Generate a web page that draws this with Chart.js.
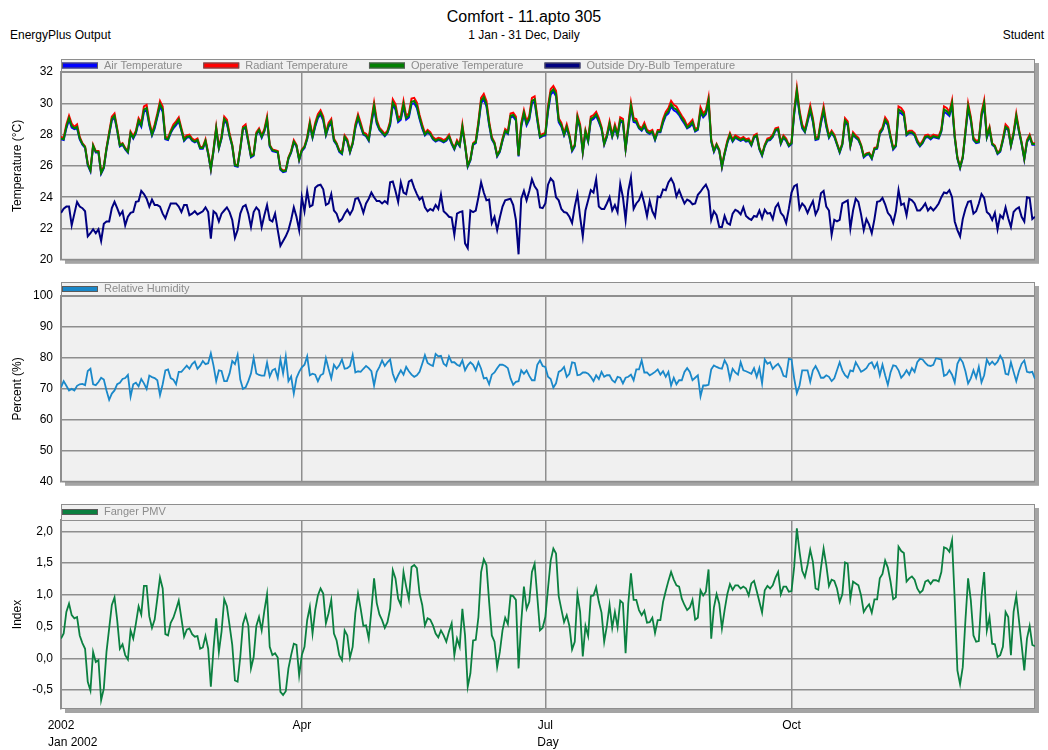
<!DOCTYPE html>
<html>
<head>
<meta charset="utf-8">
<script src="https://cdn.jsdelivr.net/npm/chart.js@4.4.1/dist/chart.umd.min.js"></script>
<style>
  body { margin: 0; background: #fff; font-family: "Liberation Sans", Arial, sans-serif; }
  #page { position: relative; width: 1048px; height: 750px; overflow: hidden; }
  .txt { position: absolute; white-space: nowrap; color: #000; line-height: 1; }
  canvas { position: absolute; left: 0; }
</style>
</head>
<body>
<div id="page">
  <div class="txt" style="left:0;width:1048px;text-align:center;top:9px;font-size:16px;">Comfort - 11.apto 305</div>
  <div class="txt" style="left:0;width:1048px;text-align:center;top:29px;font-size:12px;">1 Jan - 31 Dec, Daily</div>
  <div class="txt" style="left:10px;top:29px;font-size:12px;">EnergyPlus Output</div>
  <div class="txt" style="right:4px;top:29px;font-size:12px;">Student</div>
  <canvas id="tempChart" width="1048" height="225" style="top:50px"></canvas>
  <canvas id="rhChart" width="1048" height="225" style="top:272px"></canvas>
  <canvas id="pmvChart" width="1048" height="256" style="top:494px"></canvas>
  <div class="txt" style="left:48px;top:736px;font-size:12px;">Jan 2002</div>
</div>
<script>
// day of year, 0 = 1 Jan 2002
const days = Array.from({length: 365}, (_, i) => i);
const monthTicks = [0, 90, 181, 273];
const monthLabels = ['2002', 'Apr', 'Jul', 'Oct'];

const tempTicks = [20, 22, 24, 26, 28, 30, 32];
const rhTicks = [40, 50, 60, 70, 80, 90, 100];
const pmvTicks = [-0.5, 0, 0.5, 1.0, 1.5, 2.0];

const operativeTemp = [
  27.75, 27.7, 28.5, 29.05, 28.55, 28.4, 28.5, 27.75, 27.4, 27.2,
  26.1, 25.7, 27.3, 26.9, 26.9, 25.55, 25.9, 27.1, 28.05, 29.0,
  29.2, 28.3, 27.3, 27.4, 27.1, 26.9, 28.1, 27.8, 28.15, 28.9,
  28.6, 29.6, 29.7, 28.7, 28.0, 28.5, 29.2, 29.95, 29.6, 27.75,
  27.7, 28.15, 28.5, 28.7, 28.95, 28.3, 27.65, 27.85, 27.9, 27.65,
  27.55, 27.65, 27.15, 27.15, 27.6, 26.8, 25.8, 27.0, 28.4, 27.15,
  27.8, 29.0, 28.8, 27.95, 27.3, 26.05, 26.0, 27.1, 28.4, 28.5,
  27.55, 26.6, 26.7, 28.05, 28.3, 27.85, 28.25, 29.0, 27.3, 27.0,
  26.95, 26.9, 25.8, 25.65, 25.7, 26.5, 26.9, 27.55, 27.3, 26.4,
  27.0, 27.2, 27.75, 28.7, 27.85, 28.6, 29.15, 29.4, 29.0, 28.0,
  28.6, 28.85, 27.65, 27.4, 26.95, 26.8, 27.85, 27.6, 26.9, 27.45,
  28.5, 29.15, 28.6, 28.05, 27.95, 27.65, 28.8, 29.85, 28.8, 28.35,
  28.15, 27.95, 28.15, 28.7, 30.05, 29.75, 28.9, 29.05, 29.95, 29.05,
  29.2, 30.1, 30.15, 29.85, 29.1, 28.5, 28.0, 28.2, 28.05, 27.75,
  27.6, 27.7, 27.65, 27.55, 27.65, 27.9, 27.45, 27.1, 27.55, 27.3,
  28.5, 27.35, 26.0, 26.4, 27.4, 27.5, 28.7, 30.15, 30.4, 29.95,
  28.7, 27.75, 27.45, 26.65, 26.95, 27.65, 28.25, 28.1, 29.2, 29.25,
  29.0, 26.65, 28.6, 29.4, 28.7, 29.05, 30.15, 30.25, 29.0, 27.85,
  27.95, 28.0, 29.6, 30.7, 30.9, 30.6, 28.9, 28.6, 28.0, 28.5,
  27.9, 27.0, 27.3, 29.1, 28.5, 26.9, 28.2, 27.6, 29.0, 29.1,
  29.3, 28.9, 28.4, 27.4, 27.9, 28.7, 27.9, 28.5, 27.95, 28.95,
  28.85, 27.1, 28.5, 29.85, 28.9, 28.85, 28.45, 28.3, 28.6, 28.2,
  28.1, 28.2, 27.7, 28.2, 28.2, 28.85, 29.3, 29.5, 29.95, 29.7,
  29.6, 29.35, 29.05, 28.8, 28.45, 28.6, 28.8, 28.25, 28.35, 29.55,
  29.2, 29.4, 30.2, 27.6, 26.95, 27.35, 27.0, 25.95, 26.8, 27.5,
  28.0, 27.6, 27.85, 27.75, 27.65, 27.75, 27.6, 27.65, 27.35, 27.85,
  27.95, 27.1, 26.7, 27.3, 27.65, 27.7, 27.9, 28.3, 28.35, 27.45,
  27.85, 27.65, 27.3, 27.45, 29.4, 30.8, 29.4, 28.5, 28.2, 28.9,
  29.65, 28.9, 27.7, 27.75, 28.8, 29.6, 28.6, 27.85, 28.15, 27.9,
  27.4, 26.9, 27.4, 28.9, 28.7, 27.3, 28.05, 27.85, 27.7, 27.3,
  26.6, 26.75, 26.8, 26.5, 27.1, 27.15, 28.1, 28.35, 28.95, 28.7,
  27.85, 27.1, 27.3, 29.6, 29.5, 29.3, 28.0, 28.15, 28.15, 28.0,
  27.55, 27.3, 27.5, 27.85, 27.9, 27.75, 27.9, 27.85, 27.8, 28.25,
  29.6, 29.5, 29.3, 30.0, 27.85, 26.5, 25.9, 26.55, 28.15, 29.8,
  29.0, 27.7, 27.5, 27.55, 29.25, 30.0, 27.85, 28.4, 27.4, 27.25,
  26.8, 26.95, 27.65, 28.5, 28.35, 27.3, 28.05, 29.2, 28.25, 27.45,
  26.45, 27.55, 27.9, 27.4, 27.4
];

const radiantTemp = [
  27.85, 27.8, 28.65, 29.2, 28.7, 28.5, 28.65, 27.85, 27.45, 27.25,
  26.15, 25.75, 27.35, 26.95, 26.95, 25.6, 25.95, 27.15, 28.15, 29.15,
  29.35, 28.4, 27.35, 27.45, 27.15, 26.95, 28.2, 27.9, 28.25, 29.05,
  28.75, 29.8, 29.9, 28.85, 28.1, 28.65, 29.35, 30.15, 29.8, 27.85,
  27.8, 28.25, 28.65, 28.85, 29.1, 28.4, 27.75, 27.95, 28.0, 27.75,
  27.65, 27.75, 27.2, 27.2, 27.7, 26.85, 25.85, 27.05, 28.5, 27.2,
  27.9, 29.15, 28.95, 28.05, 27.35, 26.1, 26.05, 27.15, 28.5, 28.65,
  27.65, 26.65, 26.75, 28.15, 28.4, 27.95, 28.35, 29.15, 27.35, 27.05,
  27.0, 26.95, 25.85, 25.7, 25.75, 26.55, 26.95, 27.65, 27.35, 26.45,
  27.05, 27.25, 27.85, 28.85, 27.95, 28.75, 29.3, 29.55, 29.15, 28.1,
  28.75, 29.0, 27.75, 27.45, 27.0, 26.85, 27.95, 27.7, 26.95, 27.5,
  28.65, 29.3, 28.75, 28.15, 28.05, 27.75, 28.95, 30.05, 28.95, 28.45,
  28.25, 28.05, 28.25, 28.85, 30.25, 29.95, 29.05, 29.2, 30.15, 29.2,
  29.35, 30.3, 30.35, 30.05, 29.25, 28.65, 28.1, 28.3, 28.15, 27.85,
  27.7, 27.8, 27.75, 27.65, 27.75, 28.0, 27.5, 27.15, 27.65, 27.35,
  28.65, 27.4, 26.05, 26.45, 27.45, 27.6, 28.85, 30.35, 30.6, 30.15,
  28.85, 27.85, 27.5, 26.7, 27.0, 27.75, 28.35, 28.2, 29.35, 29.4,
  29.15, 26.7, 28.75, 29.55, 28.85, 29.2, 30.35, 30.45, 29.15, 27.95,
  28.05, 28.1, 29.8, 30.9, 31.1, 30.8, 29.05, 28.75, 28.1, 28.65,
  28.0, 27.05, 27.35, 29.25, 28.65, 26.95, 28.3, 27.7, 29.15, 29.25,
  29.45, 29.05, 28.5, 27.45, 28.0, 28.85, 28.0, 28.65, 28.05, 29.1,
  29.0, 27.15, 28.65, 30.05, 29.05, 29.0, 28.55, 28.4, 28.75, 28.3,
  28.2, 28.3, 27.8, 28.3, 28.3, 29.0, 29.45, 29.7, 30.15, 29.9,
  29.8, 29.5, 29.2, 28.95, 28.55, 28.75, 28.95, 28.35, 28.45, 29.75,
  29.35, 29.55, 30.4, 27.7, 27.0, 27.4, 27.05, 26.0, 26.85, 27.6,
  28.1, 27.7, 27.95, 27.85, 27.75, 27.85, 27.7, 27.75, 27.4, 27.95,
  28.05, 27.15, 26.75, 27.35, 27.75, 27.8, 28.0, 28.4, 28.45, 27.5,
  27.95, 27.75, 27.35, 27.5, 29.55, 31.0, 29.55, 28.65, 28.3, 29.05,
  29.85, 29.05, 27.8, 27.85, 28.95, 29.8, 28.75, 27.95, 28.25, 28.0,
  27.45, 26.95, 27.45, 29.05, 28.85, 27.35, 28.15, 27.95, 27.8, 27.35,
  26.65, 26.8, 26.85, 26.55, 27.15, 27.2, 28.2, 28.45, 29.1, 28.85,
  27.95, 27.15, 27.35, 29.8, 29.7, 29.45, 28.1, 28.25, 28.25, 28.1,
  27.65, 27.35, 27.6, 27.95, 28.0, 27.85, 28.0, 27.95, 27.9, 28.35,
  29.8, 29.7, 29.45, 30.2, 27.95, 26.55, 25.95, 26.6, 28.25, 30.0,
  29.15, 27.8, 27.6, 27.65, 29.4, 30.2, 27.95, 28.5, 27.45, 27.3,
  26.85, 27.0, 27.75, 28.65, 28.45, 27.35, 28.15, 29.35, 28.35, 27.5,
  26.5, 27.65, 28.0, 27.45, 27.45
];

const airTemp = [
  27.7, 27.65, 28.4, 28.95, 28.45, 28.35, 28.4, 27.7, 27.35, 27.15,
  26.05, 25.65, 27.25, 26.85, 26.85, 25.5, 25.85, 27.05, 28.0, 28.9,
  29.1, 28.25, 27.25, 27.35, 27.05, 26.85, 28.05, 27.75, 28.1, 28.8,
  28.5, 29.45, 29.55, 28.6, 27.95, 28.4, 29.1, 29.8, 29.45, 27.7,
  27.65, 28.1, 28.4, 28.6, 28.85, 28.25, 27.6, 27.8, 27.85, 27.6,
  27.5, 27.6, 27.1, 27.1, 27.55, 26.75, 25.75, 26.95, 28.35, 27.1,
  27.75, 28.9, 28.7, 27.9, 27.25, 26.0, 25.95, 27.05, 28.35, 28.4,
  27.5, 26.55, 26.65, 28.0, 28.25, 27.8, 28.2, 28.9, 27.25, 26.95,
  26.9, 26.85, 25.75, 25.6, 25.65, 26.45, 26.85, 27.5, 27.25, 26.35,
  26.95, 27.15, 27.7, 28.6, 27.8, 28.5, 29.05, 29.3, 28.9, 27.95,
  28.5, 28.75, 27.6, 27.35, 26.9, 26.75, 27.8, 27.55, 26.85, 27.4,
  28.4, 29.05, 28.5, 28.0, 27.9, 27.6, 28.7, 29.7, 28.7, 28.3,
  28.1, 27.9, 28.1, 28.6, 29.9, 29.6, 28.8, 28.95, 29.8, 28.95,
  29.1, 29.95, 30.0, 29.7, 29.0, 28.4, 27.95, 28.15, 28.0, 27.7,
  27.55, 27.65, 27.6, 27.5, 27.6, 27.85, 27.4, 27.05, 27.5, 27.25,
  28.4, 27.3, 25.95, 26.35, 27.35, 27.45, 28.6, 30.0, 30.25, 29.8,
  28.6, 27.7, 27.4, 26.6, 26.9, 27.6, 28.2, 28.05, 29.1, 29.15,
  28.9, 26.6, 28.5, 29.3, 28.6, 28.95, 30.0, 30.1, 28.9, 27.8,
  27.9, 27.95, 29.45, 30.55, 30.75, 30.45, 28.8, 28.5, 27.95, 28.4,
  27.85, 26.95, 27.25, 29.0, 28.4, 26.85, 28.15, 27.55, 28.9, 29.0,
  29.2, 28.8, 28.35, 27.35, 27.85, 28.6, 27.85, 28.4, 27.9, 28.85,
  28.75, 27.05, 28.4, 29.7, 28.8, 28.75, 28.4, 28.25, 28.5, 28.15,
  28.05, 28.15, 27.65, 28.15, 28.15, 28.75, 29.2, 29.35, 29.8, 29.55,
  29.45, 29.25, 28.95, 28.7, 28.4, 28.5, 28.7, 28.2, 28.3, 29.4,
  29.1, 29.3, 30.05, 27.55, 26.9, 27.3, 26.95, 25.9, 26.75, 27.45,
  27.95, 27.55, 27.8, 27.7, 27.6, 27.7, 27.55, 27.6, 27.3, 27.8,
  27.9, 27.05, 26.65, 27.25, 27.6, 27.65, 27.85, 28.25, 28.3, 27.4,
  27.8, 27.6, 27.25, 27.4, 29.3, 30.65, 29.3, 28.4, 28.15, 28.8,
  29.5, 28.8, 27.65, 27.7, 28.7, 29.45, 28.5, 27.8, 28.1, 27.85,
  27.35, 26.85, 27.35, 28.8, 28.6, 27.25, 28.0, 27.8, 27.65, 27.25,
  26.55, 26.7, 26.75, 26.45, 27.05, 27.1, 28.05, 28.3, 28.85, 28.6,
  27.8, 27.05, 27.25, 29.45, 29.35, 29.2, 27.95, 28.1, 28.1, 27.95,
  27.5, 27.25, 27.45, 27.8, 27.85, 27.7, 27.85, 27.8, 27.75, 28.2,
  29.45, 29.35, 29.2, 29.85, 27.8, 26.45, 25.85, 26.5, 28.1, 29.65,
  28.9, 27.65, 27.45, 27.5, 29.15, 29.85, 27.8, 28.3, 27.35, 27.2,
  26.75, 26.9, 27.6, 28.4, 28.3, 27.25, 28.0, 29.1, 28.2, 27.4,
  26.4, 27.5, 27.85, 27.35, 27.35
];

const outsideTemp = [
  23.0, 23.27, 23.4, 23.4, 22.2, 22.95, 23.7, 23.4, 23.3, 23.1,
  21.5, 21.7, 21.95, 21.7, 21.95, 21.2, 22.3, 22.45, 22.45, 23.3,
  23.7, 23.3, 22.85, 23.1, 22.2, 22.75, 23.0, 23.05, 23.7, 23.75,
  24.4, 24.2, 23.9, 23.4, 23.85, 23.5, 23.5, 23.4, 22.95, 22.65,
  23.15, 23.6, 23.6, 23.6, 23.4, 23.05, 23.5, 23.5, 22.85, 22.95,
  23.1, 22.9, 23.0, 23.1, 23.35, 23.05, 21.35, 23.1, 22.95, 22.45,
  22.95, 23.15, 23.35, 23.05, 22.55, 21.4, 21.9, 22.95, 23.4, 23.5,
  22.95, 22.1, 23.05, 23.35, 23.15, 22.1, 22.85, 23.5, 22.55, 22.45,
  22.95, 21.9, 20.9, 21.2, 21.5, 21.9, 22.55, 23.35, 22.75, 21.9,
  24.0, 23.1, 24.4, 23.4, 23.5, 24.6, 24.75, 24.8, 24.5, 23.5,
  23.6, 24.2, 23.15, 22.95, 22.45, 22.6, 22.95, 23.2, 22.9, 23.2,
  23.9, 23.95, 23.55, 23.0, 23.6, 23.9, 24.3, 24.0, 23.75, 23.75,
  23.6, 23.75, 23.6, 24.95, 25.0, 24.4, 23.7, 24.95, 24.3, 24.2,
  25.0, 25.1, 24.6, 24.2, 23.85, 24.0, 23.35, 23.1, 23.25, 23.15,
  23.5, 23.25, 24.15, 23.1, 22.95, 22.75, 22.7, 21.6, 22.95, 23.05,
  23.1, 21.05, 20.75, 23.15, 23.05, 23.15, 24.0, 24.95, 24.3, 23.8,
  23.85, 22.35, 22.75, 21.9, 22.7, 23.4, 23.8, 23.85, 23.9, 23.5,
  22.55, 20.35, 23.9, 24.4, 23.8, 24.4, 25.15, 24.7, 24.45, 23.35,
  23.3, 23.6, 24.8, 25.2, 25.0, 24.0, 23.8, 23.25, 23.05, 23.0,
  22.75, 22.35, 23.4, 24.2, 22.75, 21.5, 23.15, 23.8, 24.45, 24.3,
  25.15, 23.4, 23.25, 23.25, 23.6, 24.0, 23.15, 23.5, 23.05, 24.85,
  24.0, 22.55, 24.4, 25.25, 23.25, 23.6, 23.8, 24.25, 23.6, 22.8,
  23.75, 23.1, 22.75, 24.05, 24.0, 24.5, 24.45, 24.95, 25.2, 24.85,
  24.05, 24.45, 24.0, 23.6, 23.85, 23.75, 23.55, 23.6, 24.15, 24.35,
  24.6, 24.8, 24.4, 22.55, 23.1, 22.85, 22.1, 22.1, 22.8, 22.35,
  22.25, 22.95, 23.2, 23.1, 22.9, 23.35, 22.8, 22.65, 22.55, 22.8,
  22.75, 23.15, 22.65, 23.2, 22.95, 23.0, 22.6, 23.35, 23.6, 23.0,
  22.8, 22.35, 23.25, 24.3, 24.7, 24.8, 23.25, 23.6, 23.4, 23.0,
  23.4, 23.75, 22.9, 23.25, 24.25, 24.4, 23.4, 23.15, 21.6, 22.55,
  22.45, 22.55, 23.6, 23.7, 23.8, 22.0, 23.15, 23.9, 23.7, 22.9,
  21.9, 22.6, 22.25, 21.7, 22.6, 23.7, 23.75, 23.95, 23.55, 23.0,
  22.8, 22.35, 23.1, 24.45, 23.5, 23.6, 22.85, 23.9, 23.8, 23.6,
  23.15, 23.15, 23.35, 23.6, 23.15, 23.35, 23.15, 23.35, 23.6, 24.0,
  24.3, 24.25, 24.45, 24.0, 22.45, 21.9, 21.5, 22.6, 23.25, 23.7,
  23.75, 22.95, 23.1, 23.6, 24.2, 23.95, 23.05, 22.9, 22.55, 23.0,
  21.95, 22.85, 22.65, 23.35, 22.65, 22.1, 23.05, 23.25, 23.35, 22.75,
  22.45, 24.0, 23.95, 22.6, 22.75
];

const relHumidity = [
  70.5, 72.5, 71.0, 69.5, 70.0, 69.5, 71.0, 71.5, 71.6, 71.2,
  75.8, 76.5, 71.5, 71.2, 72.2, 73.6, 73.0, 69.5, 66.5, 68.5,
  69.5, 71.5, 72.0, 73.2, 73.5, 74.5, 67.5, 71.5, 72.0, 70.8,
  73.2, 71.8, 70.0, 74.3, 73.8, 73.5, 72.8, 68.0, 71.5, 76.0,
  76.3, 73.5, 73.0, 71.5, 75.5, 75.5, 76.5, 77.5, 76.5, 78.0,
  78.8, 76.5, 77.5, 79.0, 78.0, 78.3, 81.5, 77.5, 72.5, 76.0,
  75.8, 72.5, 72.5, 75.0, 79.0, 78.0, 81.0, 73.0, 70.0, 70.5,
  72.5, 75.0, 80.0, 75.0, 74.5, 74.3, 74.3, 78.5, 74.0, 76.0,
  76.5, 73.5, 79.5, 75.0, 80.5, 72.5, 74.0, 68.5, 73.5, 75.5,
  77.0, 77.8, 80.5, 74.4, 74.9, 74.6, 72.5, 74.4, 74.9, 79.9,
  76.5, 73.4, 77.8, 76.5, 77.6, 79.5, 76.5, 76.7, 77.4, 80.9,
  75.3, 75.7, 75.5, 76.5, 77.4, 76.7, 75.7, 71.1, 75.5, 77.1,
  79.2, 77.4, 78.6, 79.5, 74.9, 72.5, 74.4, 76.0, 74.6, 77.1,
  75.7, 74.6, 73.9, 74.4, 75.5, 78.1, 80.9, 78.4, 77.8, 77.4,
  81.3, 80.5, 80.7, 78.1, 77.4, 80.5, 78.6, 78.6, 77.8, 77.4,
  79.2, 76.0, 77.6, 78.6, 77.8, 76.0, 78.6, 76.5, 73.4, 73.6,
  71.5, 74.6, 75.3, 76.7, 77.8, 77.8, 77.4, 76.7, 73.4, 71.3,
  72.3, 72.5, 76.0, 74.9, 76.0, 74.2, 72.8, 72.8, 77.8, 79.2,
  77.4, 77.1, 73.9, 73.2, 70.4, 71.8, 75.5, 76.0, 77.1, 73.9,
  74.9, 78.6, 78.4, 74.4, 74.6, 75.3, 75.3, 74.9, 73.9, 72.5,
  74.4, 73.2, 75.5, 73.9, 74.4, 74.4, 72.8, 72.1, 73.9, 73.6,
  71.8, 73.6, 73.9, 74.6, 72.8, 76.3, 76.3, 79.2, 75.3, 75.3,
  74.4, 74.9, 75.5, 76.3, 74.6, 75.7, 73.9, 75.5, 71.1, 73.6,
  71.5, 72.8, 72.8, 75.5, 76.7, 75.5, 72.8, 73.6, 74.4, 67.6,
  71.1, 71.1, 71.3, 76.3, 77.6, 77.1, 76.7, 76.5, 79.2, 77.6,
  73.2, 76.5, 75.3, 74.6, 78.6, 76.0, 75.7, 75.3, 74.9, 76.7,
  73.9, 76.7, 71.8, 79.5, 78.1, 78.6, 76.5, 77.4, 78.1, 76.7,
  74.2, 73.9, 79.7, 79.5, 73.4, 68.6, 71.1, 76.0, 76.0, 76.0,
  72.3, 76.0, 77.4, 75.7, 73.6, 73.6, 74.4, 73.9, 72.5, 73.4,
  76.0, 78.6, 76.0, 74.4, 73.6, 76.0, 75.7, 78.6, 77.1, 75.5,
  76.0, 76.7, 78.1, 78.6, 76.7, 78.4, 74.4, 77.8, 74.4, 71.3,
  75.3, 77.6, 77.4, 76.0, 73.6, 74.6, 76.0, 74.6, 76.7, 75.5,
  78.6, 79.7, 79.5, 78.4, 77.6, 77.4, 77.8, 79.9, 79.7, 79.5,
  74.2, 74.6, 76.0, 74.6, 72.1, 78.1, 79.9, 78.6, 75.7, 71.8,
  73.4, 76.0, 73.6, 77.1, 72.1, 74.4, 79.5, 77.8, 78.8, 77.8,
  78.8, 80.7, 79.2, 74.9, 74.6, 78.6, 75.5, 72.5, 75.7, 78.1,
  79.2, 75.5, 75.3, 75.5, 73.2
];

const fangerPMV = [
  0.31, 0.39, 0.73, 0.86, 0.68, 0.63, 0.65, 0.36, 0.24, 0.15,
  -0.37, -0.51, 0.10, -0.06, -0.03, -0.66, -0.48, 0.10, 0.47, 0.84,
  0.96, 0.60, 0.15, 0.22, 0.05, -0.02, 0.44, 0.31, 0.55, 0.82,
  0.69, 1.14, 1.14, 0.66, 0.48, 0.61, 0.94, 1.27, 1.10, 0.38,
  0.36, 0.56, 0.64, 0.77, 0.91, 0.63, 0.34, 0.45, 0.47, 0.38,
  0.34, 0.35, 0.15, 0.17, 0.35, 0.15, -0.45, 0.15, 0.63, 0.10,
  0.42, 0.93, 0.82, 0.52, 0.21, -0.35, -0.37, 0.02, 0.54, 0.68,
  0.52, -0.16, 0.02, 0.51, 0.65, 0.44, 0.75, 1.01, 0.18, 0.05,
  0.08, 0.01, -0.53, -0.58, -0.52, -0.16, 0.05, 0.23, 0.21, -0.27,
  0.05, 0.18, 0.60, 0.81, 0.39, 0.76, 0.99, 1.10, 1.02, 0.55,
  0.71, 0.92, 0.39, 0.28, 0.05, -0.03, 0.44, 0.36, 0.01, 0.18,
  0.71, 1.02, 0.78, 0.51, 0.52, 0.31, 0.76, 1.26, 0.87, 0.69,
  0.60, 0.48, 0.57, 0.78, 1.39, 1.26, 0.94, 0.84, 1.36, 1.13,
  0.93, 1.44, 1.47, 1.42, 1.02, 0.84, 0.52, 0.63, 0.61, 0.52,
  0.39, 0.33, 0.44, 0.36, 0.26, 0.42, 0.55, 0.05, 0.31, 0.18,
  0.78, 0.36, -0.45, -0.24, 0.28, 0.29, 0.65, 1.36, 1.56, 1.47,
  0.89, 0.36, 0.26, -0.14, 0.10, 0.44, 0.64, 0.54, 0.99, 0.98,
  0.92, -0.16, 0.57, 1.13, 0.78, 0.89, 1.36, 1.49, 0.97, 0.44,
  0.48, 0.65, 1.10, 1.54, 1.73, 1.65, 0.98, 0.77, 0.57, 0.68,
  0.51, 0.14, 0.26, 1.01, 0.73, 0.03, 0.51, 0.35, 0.98, 0.99,
  1.12, 0.89, 0.72, 0.26, 0.51, 0.84, 0.48, 0.73, 0.49, 0.91,
  0.87, 0.08, 0.86, 1.34, 0.92, 0.92, 0.76, 0.68, 0.75, 0.56,
  0.57, 0.64, 0.40, 0.60, 0.60, 0.89, 1.06, 1.22, 1.36, 1.24,
  1.15, 1.13, 0.94, 0.84, 0.76, 0.80, 0.92, 0.61, 0.64, 1.07,
  0.99, 1.05, 1.40, 0.31, 0.80, 1.01, 0.86, 0.47, 0.76, 1.01,
  1.17, 1.08, 1.15, 1.15, 1.10, 1.13, 1.10, 0.99, 1.18, 1.22,
  1.06, 0.89, 0.72, 1.07, 1.14, 1.10, 1.15, 1.27, 1.36, 1.01,
  1.13, 1.13, 1.05, 1.06, 1.44, 2.05, 1.68, 1.38, 1.28, 1.47,
  1.71, 1.52, 1.10, 1.08, 1.42, 1.73, 1.47, 1.14, 1.24, 1.22,
  1.10, 0.89, 1.01, 1.51, 1.49, 0.94, 1.21, 1.18, 1.15, 0.99,
  0.73, 0.80, 0.85, 0.72, 0.93, 0.93, 1.26, 1.33, 1.54, 1.43,
  1.21, 0.93, 0.96, 1.76, 1.69, 1.66, 1.21, 1.26, 1.29, 1.24,
  1.10, 1.03, 1.07, 1.21, 1.23, 1.17, 1.23, 1.23, 1.21, 1.36,
  1.75, 1.73, 1.68, 1.86, 0.92, -0.19, -0.41, -0.14, 0.60, 1.26,
  0.92, 0.36, 0.26, 0.27, 0.97, 1.36, 0.44, 0.65, 0.23, 0.22,
  0.02, 0.05, 0.18, 0.73, 0.65, 0.05, 0.73, 0.98, 0.60, 0.21,
  -0.19, 0.31, 0.51, 0.21, 0.19
];

const FONT = '"Liberation Sans", Arial, sans-serif';
Chart.defaults.font.family = FONT;
Chart.defaults.font.size = 12;
Chart.defaults.color = '#000';

const GRID = '#8e8e8e';

// gray panel with drop shadow, plus the small legend strip above the plot
const panelFrame = {
  id: 'panelFrame',
  beforeDraw(chart, args, opts) {
    const {ctx, chartArea: a} = chart;
    const top = a.top - opts.strip;
    const w = a.right - a.left, h = a.bottom - top;
    ctx.save();
    ctx.fillStyle = '#a4a4a4';
    ctx.fillRect(a.left + 4, top + 4, w, h);
    ctx.fillStyle = '#f0f0f0';
    ctx.fillRect(a.left, top, w, h);
    ctx.strokeStyle = GRID;
    ctx.lineWidth = 1;
    ctx.strokeRect(a.left + 0.5, top + 0.5, w - 1, h - 1);
    ctx.beginPath();
    ctx.moveTo(a.left, a.top + 0.5);
    ctx.lineTo(a.right, a.top + 0.5);
    ctx.stroke();
    ctx.restore();
  },
  afterDraw(chart, args, opts) {
    const {ctx, chartArea: a} = chart;
    const y = a.top - opts.strip / 2;
    let x = a.left + 1;
    ctx.save();
    ctx.font = '11px ' + FONT;
    ctx.textBaseline = 'middle';
    opts.items.forEach(it => {
      ctx.fillStyle = it.color;
      ctx.fillRect(x, y - 3, 36, 6);
      ctx.strokeStyle = '#5a5a5a';
      ctx.lineWidth = 1;
      ctx.strokeRect(x + 0.5, y - 2.5, 35, 5);
      ctx.fillStyle = '#8c8c8c';
      ctx.fillText(it.text, x + 42, y);
      x += 42 + ctx.measureText(it.text).width + 21;
    });
    ctx.restore();
  }
};

function xAxis(showLabels) {
  return {
    type: 'linear',
    min: 0,
    max: 364,
    afterBuildTicks: s => { s.ticks = monthTicks.map(v => ({value: v})); },
    afterFit: s => { if (showLabels) s.height = 41; },
    grid: {color: GRID, lineWidth: 1.5, drawTicks: false},
    border: {display: false},
    ticks: {
      display: showLabels, padding: 9, maxRotation: 0, autoSkip: false,
      callback: v => monthLabels[monthTicks.indexOf(v)]
    },
    title: {display: showLabels, text: 'Day', padding: {top: 0, bottom: 0}}
  };
}

function yAxis(min, max, ticks, title, fmt) {
  return {
    min: min,
    max: max,
    afterBuildTicks: s => { s.ticks = ticks.map(v => ({value: v})); },
    afterFit: s => { s.width = 61; },
    grid: {color: GRID, lineWidth: 1.5, drawTicks: false},
    border: {display: true, color: GRID, width: 1.5},
    ticks: {padding: 8, callback: fmt || (v => v)},
    title: {display: true, text: title, padding: {top: 10, bottom: 0}}
  };
}

function line(label, values, color, width, order) {
  return {
    label: label, data: values, borderColor: color, backgroundColor: color,
    borderWidth: width, pointRadius: 0, tension: 0, order: order
  };
}

function panel(id, datasets, y, legendItems, strip, padding, showX) {
  return new Chart(document.getElementById(id), {
    type: 'line',
    data: {labels: days, datasets: datasets},
    options: {
      responsive: false,
      animation: false,
      layout: {padding: padding},
      plugins: {
        legend: {display: false},
        tooltip: {enabled: false},
        panelFrame: {items: legendItems, strip: strip}
      },
      scales: {x: xAxis(showX), y: y}
    },
    plugins: [panelFrame]
  });
}

panel('tempChart', [
  line('Air Temperature', airTemp, '#0000ff', 2, 2),
  line('Radiant Temperature', radiantTemp, '#ff0000', 2, 1),
  line('Operative Temperature', operativeTemp, '#008000', 2, 0),
  line('Outside Dry-Bulb Temperature', outsideTemp, '#000080', 2, 3)
], yAxis(20, 32, tempTicks, 'Temperature (°C)'), [
  {text: 'Air Temperature', color: '#0000ff'},
  {text: 'Radiant Temperature', color: '#ff0000'},
  {text: 'Operative Temperature', color: '#008000'},
  {text: 'Outside Dry-Bulb Temperature', color: '#000080'}
], 13, {left: 0, right: 13, top: 22, bottom: 11}, false);

panel('rhChart', [
  line('Relative Humidity', relHumidity, '#1a88c9', 1.8, 0)
], yAxis(40, 100, rhTicks, 'Percent (%)'), [
  {text: 'Relative Humidity', color: '#1a88c9'}
], 14, {left: 0, right: 13, top: 24, bottom: 11}, false);

panel('pmvChart', [
  line('Fanger PMV', fangerPMV, '#0b8040', 1.8, 0)
], yAxis(-0.8, 2.18, pmvTicks, 'Index', v => v.toFixed(1).replace('.', ',')), [
  {text: 'Fanger PMV', color: '#0b8040'}
], 16, {left: 0, right: 13, top: 26, bottom: 0}, true);
</script>
</body>
</html>
